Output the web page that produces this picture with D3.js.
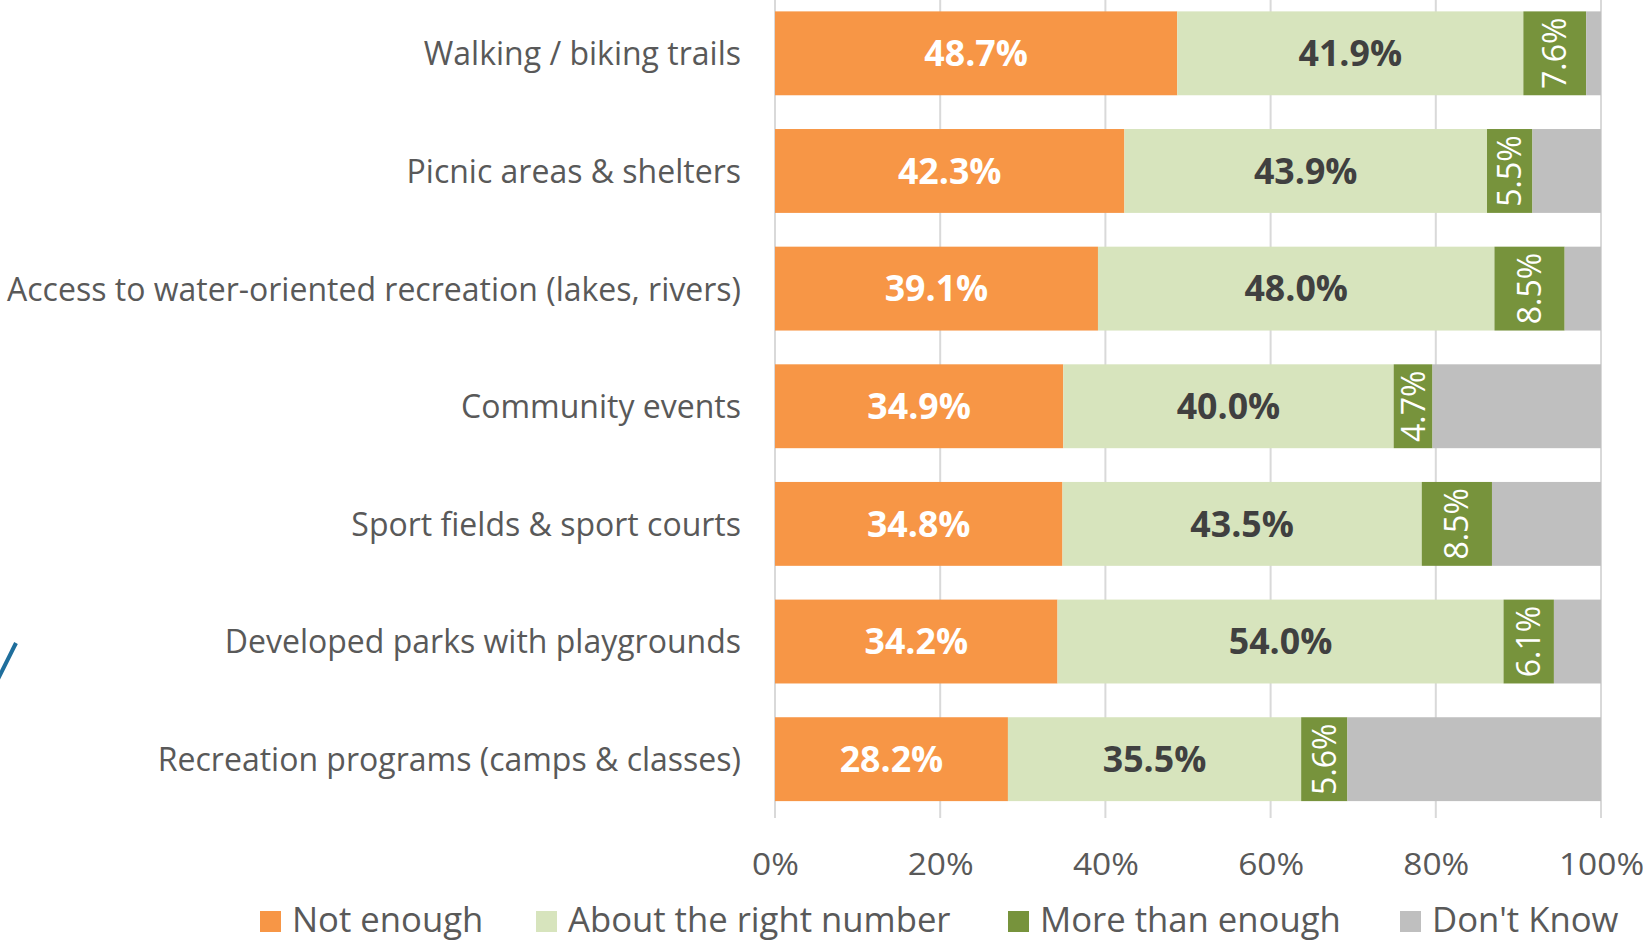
<!DOCTYPE html>
<html>
<head>
<meta charset="utf-8">
<script src="https://cdn.jsdelivr.net/npm/d3@7"></script>
<style>
  body { margin: 0; background: #fff; }
  svg { display: block; }
</style>
</head>
<body>
<svg id="chart" width="1643" height="942"></svg>
<script>
const categories = [
    "Walking / biking trails",
    "Picnic areas & shelters",
    "Access to water-oriented recreation (lakes, rivers)",
    "Community events",
    "Sport fields & sport courts",
    "Developed parks with playgrounds",
    "Recreation programs (camps & classes)"
];
const seriesNames = ["Not enough", "About the right number", "More than enough", "Don't Know"];
const notEnough = [48.7, 42.3, 39.1, 34.9, 34.8, 34.2, 28.2];
const aboutRight = [41.9, 43.9, 48.0, 40.0, 43.5, 54.0, 35.5];
const moreThan = [7.6, 5.5, 8.5, 4.7, 8.5, 6.1, 5.6];
const dontKnow = [1.8, 8.3, 4.4, 20.4, 13.2, 5.7, 30.7];
const tickValues = [0, 20, 40, 60, 80, 100];

const colors = ["#F79646", "#D7E4BD", "#77933C", "#BFBFBF"];

const svg = d3.select("#chart"),
      margin = {top: -5.5, right: 42, bottom: 124, left: 775},
      width = +svg.attr("width"),
      height = +svg.attr("height");

const x = d3.scaleLinear().domain([0, 100]).range([margin.left, width - margin.right]);
const y = d3.scaleBand().domain(categories)
    .range([margin.top, height - margin.bottom])
    .paddingInner(0.287).paddingOuter(0.1435);

const textGrey = "#595959";
const font = "'Open Sans', sans-serif";

// gridlines
svg.append("g")
    .selectAll("line")
    .data(tickValues)
    .join("line")
    .attr("x1", d => x(d)).attr("x2", d => x(d))
    .attr("y1", 0).attr("y2", height - margin.bottom)
    .attr("stroke", "#d9d9d9")
    .attr("stroke-width", 2);

// stack data
const rows = categories.map((c, i) => ({
    cat: c, v: [notEnough[i], aboutRight[i], moreThan[i], dontKnow[i]]
}));
const stack = d3.stack().keys([0, 1, 2, 3]).value((d, k) => d.v[k]);
const layers = stack(rows);

layers.forEach((layer, k) => {
    const g = svg.append("g");
    g.selectAll("rect")
        .data(layer)
        .join("rect")
        .attr("x", d => x(d[0]))
        .attr("y", d => y(d.data.cat))
        .attr("width", d => x(d[1]) - x(d[0]))
        .attr("height", y.bandwidth())
        .attr("fill", colors[k]);

    if (k === 0 || k === 1) {
        g.selectAll("text")
            .data(layer)
            .join("text")
            .attr("transform", d => `translate(${(x(d[0]) + x(d[1])) / 2},${y(d.data.cat) + y.bandwidth() / 2}) scale(1.02,1)`)
            .attr("text-anchor", "middle")
            .attr("dy", "0.36em")
            .attr("font-family", font)
            .attr("font-weight", "bold")
            .attr("font-size", 35)
            .attr("fill", k === 0 ? "#ffffff" : "#404040")
            .text(d => d.data.v[k].toFixed(1) + "%");
    } else if (k === 2) {
        g.selectAll("text")
            .data(layer)
            .join("text")
            .attr("transform", d => `translate(${(x(d[0]) + x(d[1])) / 2},${y(d.data.cat) + y.bandwidth() / 2}) rotate(-90)`)
            .attr("text-anchor", "middle")
            .attr("dy", "0.36em")
            .attr("font-family", font)
            .attr("font-size", 32)
            .attr("fill", "#ffffff")
            .text(d => d.data.v[k].toFixed(1) + "%");
    }
});

// category labels
svg.append("g")
    .selectAll("text")
    .data(categories)
    .join("text")
    .attr("transform", d => `translate(741,${y(d) + y.bandwidth() / 2}) scale(0.97,1)`)
    .attr("text-anchor", "end")
    .attr("dy", "0.36em")
    .attr("font-family", font)
    .attr("font-size", 33)
    .attr("fill", textGrey)
    .text(d => d);

// x axis labels
const xAxis = d3.axisBottom(x)
    .tickValues(tickValues)
    .tickSize(0)
    .tickPadding(0)
    .tickFormat(d => d + "%");
const ax = svg.append("g")
    .attr("transform", `translate(0,${height - margin.bottom})`)
    .call(xAxis);
ax.select(".domain").remove();
ax.selectAll("text")
    .attr("y", 46)
    .attr("dy", "0.36em")
    .attr("transform", "scale(1.08,1)")
    .attr("font-family", font)
    .attr("font-size", 31)
    .attr("fill", textGrey);

// legend
const legendX = [260, 536, 1008, 1400];
const legend = svg.append("g")
    .selectAll("g")
    .data(seriesNames)
    .join("g")
    .attr("transform", (d, i) => `translate(${legendX[i]},920)`);
legend.append("rect")
    .attr("x", 0).attr("y", -9)
    .attr("width", 21).attr("height", 21)
    .attr("fill", (d, i) => colors[i]);
legend.append("text")
    .attr("transform", "translate(32,0) scale(1.02,1)")
    .attr("dy", "0.36em")
    .attr("font-family", font)
    .attr("font-size", 34)
    .attr("fill", textGrey)
    .text(d => d);

// fragment of a blue stroke at the left edge of the picture
svg.append("line")
    .attr("x1", -2).attr("y1", 679)
    .attr("x2", 16).attr("y2", 643)
    .attr("stroke", "#1f6e9c")
    .attr("stroke-width", 4);
</script>
</body>
</html>
